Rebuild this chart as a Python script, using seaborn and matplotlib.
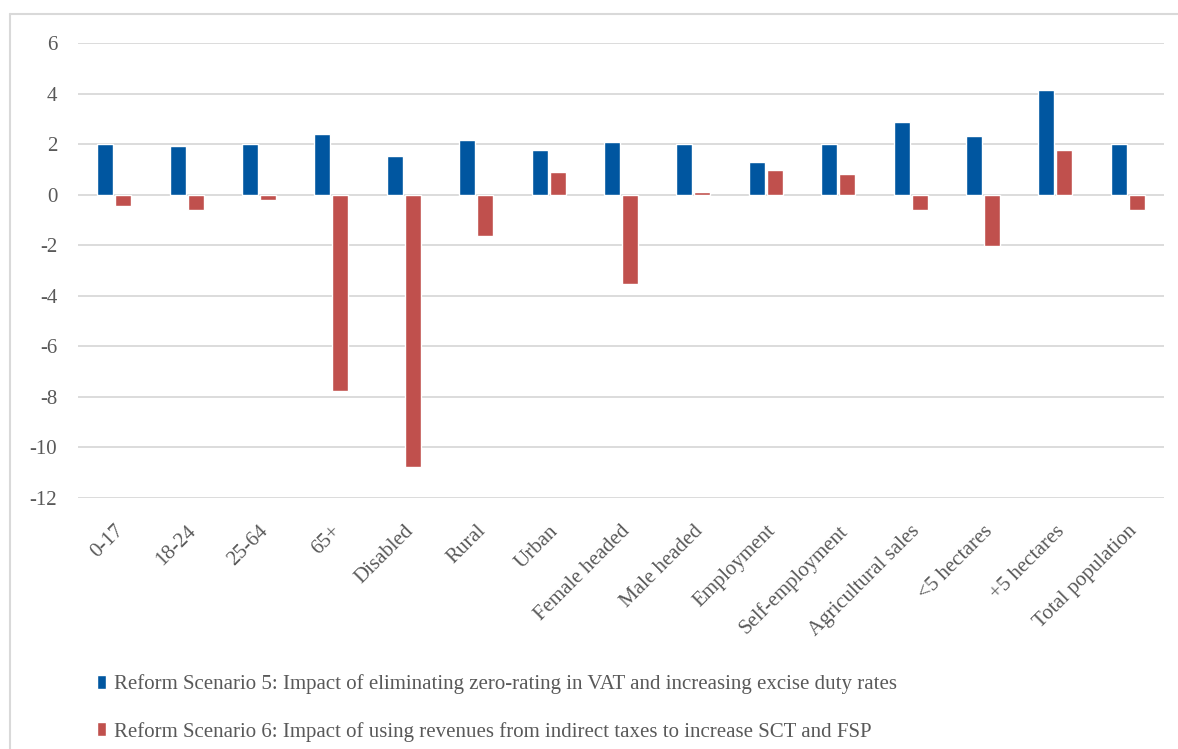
import pandas as pd
import seaborn as sns
from matplotlib import pyplot as plt
from matplotlib.lines import Line2D

groups = ['0-17', '18-24', '25-64', '65+', 'Disabled', 'Rural', 'Urban', 'Female headed',
          'Male headed', 'Employment', 'Self-employment', 'Agricultural sales',
          '<5 hectares', '+5 hectares', 'Total population']
scenario5 = [2.01, 1.93, 2.0, 2.41, 1.54, 2.17, 1.77, 2.09, 2.0, 1.3, 2.0, 2.89, 2.33, 4.16, 2.0]
scenario6 = [-0.44, -0.61, -0.21, -7.75, -10.77, -1.64, 0.9, -3.54, 0.1, 0.98, 0.82, -0.61, -2.04, 1.77, -0.61]
s5_label = 'Reform Scenario 5: Impact of eliminating zero-rating in VAT and increasing excise duty rates'
s6_label = 'Reform Scenario 6: Impact of using revenues from indirect taxes to increase SCT and FSP'
yticks = [-12, -10, -8, -6, -4, -2, 0, 2, 4, 6]

df = pd.DataFrame({'group': groups * 2,
                   'value': scenario5 + scenario6,
                   'scenario': [s5_label] * len(groups) + [s6_label] * len(groups)})

sns.set_style('white')
plt.rcParams['font.family'] = ['Liberation Serif', 'DejaVu Serif']

fig = plt.figure(figsize=(11.78, 7.49), dpi=100)
# chart-area border (top and left edges only are visible in the original)
fig.add_artist(Line2D([9.5 / 1178, 1], [1 - 14 / 749, 1 - 14 / 749], color='#d9d9d9', lw=1.5))
fig.add_artist(Line2D([9.5 / 1178, 9.5 / 1178], [0, 1 - 14 / 749], color='#d9d9d9', lw=1.5))

ax = fig.add_axes([78 / 1178, 0.3351, 1086 / 1178, 0.6071])

sns.barplot(data=df, x='group', y='value', hue='scenario', order=groups,
            palette=['#0056A0', '#C0504D'], saturation=1, width=0.5, gap=0.12,
            ax=ax, legend=True)

ax.set_ylim(-12, 6)
ax.set_yticks(yticks)
ax.set_yticklabels([str(t) for t in yticks])
ax.set_xlim(-0.5, len(groups) - 0.5)
ax.grid(axis='y', color='#d9d9d9', linewidth=1.3)
ax.set_axisbelow(True)
for s in ax.spines.values():
    s.set_visible(False)
ax.set_xlabel('')
ax.set_ylabel('')
ax.tick_params(axis='y', labelsize=15, labelcolor='#595959', length=0, pad=15)
ax.tick_params(axis='x', labelsize=15, labelcolor='#595959', length=0, pad=17)
plt.setp(ax.get_xticklabels(), rotation=45, ha='right', rotation_mode='anchor')

handles, labels = ax.get_legend_handles_labels()
ax.get_legend().remove()
fig.legend(handles, labels, loc='lower left', bbox_to_anchor=(97 / 1178, 0.01), frameon=False,
           fontsize=15, labelcolor='#595959', handlelength=0.43, handleheight=0.63,
           handletextpad=0.4, labelspacing=1.32, borderaxespad=0, borderpad=0)

fig.savefig('out.png', dpi=100)
